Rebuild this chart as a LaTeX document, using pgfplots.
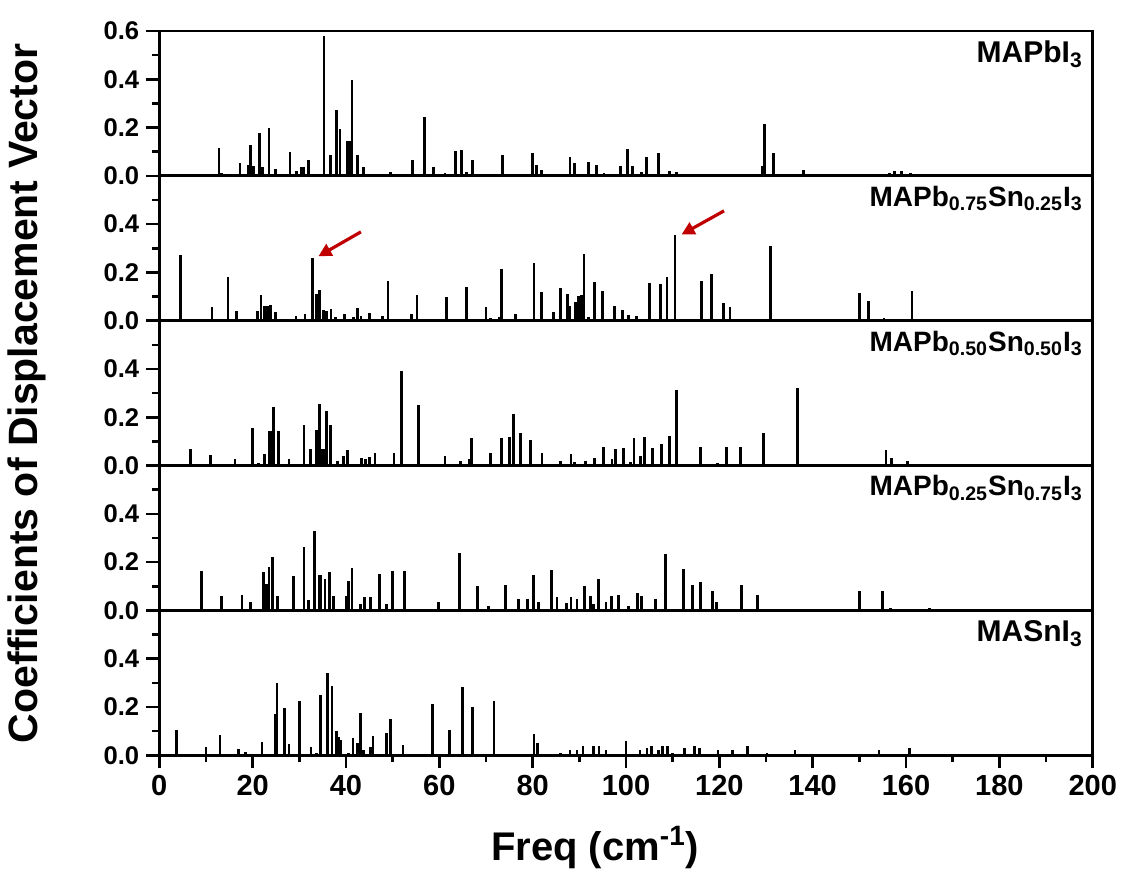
\documentclass[border=0pt]{standalone}
\usepackage{fontspec}
\setmainfont{Liberation Sans}
\usepackage{pgfplots}
\pgfplotsset{compat=1.18}
\usetikzlibrary{arrows.meta}

\definecolor{arrowred}{RGB}{192,0,0}

\pgfplotsset{
  panel/.style={
    scale only axis, width=466.7pt, height=72.43pt,
    xmin=0, xmax=200, ymin=0, ymax=0.6,
    axis line style={line width=1.4pt},
    ytick={0,0.2,0.4}, minor ytick={0.1,0.3,0.5},
    xtick=\empty,
    tick align=outside, tick pos=left,
    major tick length=6.5pt, minor tick length=3.5pt,
    every tick/.style={line width=1.3pt, black},
    /pgf/number format/assume math mode=true,
    yticklabel style={font=\fontsize{12.8}{14}\selectfont\bfseries,
      /pgf/number format/fixed, /pgf/number format/precision=1,
      /pgf/number format/fixed zerofill},
    xticklabel style={font=\fontsize{14.5}{16}\selectfont\bfseries},
  },
  spec/.style={ycomb, black, line width=1.4pt, mark=none},
}
\tikzset{
  lbl/.style={anchor=north east, inner sep=0pt, xshift=-4.8pt, yshift=-4.8pt,
    font=\fontsize{14}{16}\selectfont\bfseries},
}

\begin{document}
\begin{tikzpicture}
\path[use as bounding box] (-79.65pt,-56.85pt) rectangle (484.35pt,377.65pt);

% MASnI3
\begin{axis}[panel, at={(0pt,0pt)}, anchor=south west,
  xtick={0,20,...,200}, minor x tick num=1]
\addplot[spec] coordinates {
(3.7,0.106) (10.0,0.036) (13.0,0.083) (17.0,0.028) (18.4,0.015) (22.0,0.054)
(24.8,0.171) (25.2,0.301) (26.9,0.197) (27.8,0.047) (30.0,0.225) (32.5,0.036)
(33.6,0.011) (34.6,0.248) (36.0,0.339) (37.0,0.288) (37.9,0.102) (38.4,0.076)
(38.9,0.062) (40.5,0.011) (41.5,0.07) (42.5,0.05) (43.1,0.177) (43.8,0.022)
(45.3,0.036) (45.8,0.079) (48.6,0.094) (49.6,0.15) (52.2,0.043) (58.5,0.211)
(62.2,0.106) (64.9,0.284) (67.1,0.201) (71.7,0.224) (80.3,0.09) (81.0,0.05)
(86.0,0.01) (88.0,0.02) (89.5,0.02) (90.8,0.04) (93.1,0.04) (94.2,0.04)
(95.7,0.02) (100.0,0.06) (103.0,0.02) (104.5,0.03) (105.4,0.04) (106.9,0.02)
(107.8,0.04) (108.9,0.04) (110.0,0.01) (112.5,0.03) (114.7,0.04) (115.8,0.03)
(119.7,0.02) (122.9,0.02) (126.1,0.04) (130.2,0.01) (136.2,0.02) (147.8,0.005)
(154.2,0.02) (160.8,0.03)
};
\node[lbl, font=\fontsize{15}{17}\selectfont\bfseries] at (rel axis cs:1,1) {MASnI\textsubscript{3}};
\end{axis}

% MAPb0.25Sn0.75I3
\begin{axis}[panel, at={(0pt,72.43pt)}, anchor=south west]
\addplot[spec] coordinates {
(9.1,0.165) (13.4,0.058) (17.7,0.065) (19.6,0.037) (22.3,0.161) (22.9,0.111)
(23.5,0.181) (24.2,0.223) (25.3,0.058) (28.7,0.144) (31.0,0.264) (31.9,0.042)
(33.2,0.328) (34.2,0.148) (34.6,0.148) (35.5,0.129) (36.4,0.161) (37.4,0.061)
(40.1,0.058) (40.5,0.123) (41.3,0.176) (43.1,0.025) (44.0,0.057) (45.2,0.054)
(47.1,0.152) (48.7,0.025) (50.0,0.165) (52.6,0.165) (59.8,0.037) (64.3,0.239)
(68.1,0.1) (70.6,0.018) (74.2,0.105) (76.9,0.046) (78.9,0.046) (80.1,0.148)
(81.3,0.036) (84.1,0.169) (85.2,0.054) (87.2,0.029) (88.2,0.054) (89.5,0.046)
(91.1,0.1) (92.4,0.058) (93.0,0.026) (94.1,0.129) (95.7,0.036) (96.9,0.061)
(98.4,0.065) (100.6,0.018) (102.4,0.073) (103.4,0.061) (106.4,0.046) (108.5,0.235)
(112.4,0.173) (114.2,0.107) (116.0,0.116) (118.6,0.082) (119.4,0.037) (124.8,0.105)
(128.1,0.062) (150.1,0.082) (154.9,0.08) (156.6,0.01) (165.1,0.01)
};
\node[lbl] at (rel axis cs:1,1) {MAPb\textsubscript{0.25}Sn\textsubscript{0.75}I\textsubscript{3}};
\end{axis}

% MAPb0.50Sn0.50I3
\begin{axis}[panel, at={(0pt,144.86pt)}, anchor=south west]
\addplot[spec] coordinates {
(6.7,0.067) (10.9,0.043) (16.2,0.028) (19.9,0.156) (21.2,0.01) (22.6,0.046)
(23.5,0.142) (24.0,0.142) (24.5,0.243) (25.5,0.142) (27.8,0.026) (31.0,0.167)
(32.4,0.067) (33.7,0.146) (34.3,0.256) (35.0,0.067) (35.4,0.067) (35.9,0.227)
(36.6,0.167) (38.2,0.02) (39.4,0.038) (40.4,0.063) (43.4,0.031) (44.1,0.026)
(45.0,0.035) (46.2,0.054) (50.3,0.054) (51.9,0.39) (55.6,0.251) (61.2,0.038)
(64.6,0.018) (66.4,0.028) (66.9,0.116) (71.0,0.054) (73.3,0.116) (75.1,0.118)
(75.9,0.215) (77.4,0.135) (79.6,0.107) (82.0,0.054) (85.9,0.017) (88.2,0.046)
(88.9,0.014) (91.4,0.017) (93.2,0.032) (95.1,0.079) (97.0,0.028) (97.7,0.068)
(99.5,0.072) (100.9,0.014) (101.7,0.114) (103.1,0.038) (103.9,0.118) (105.7,0.072)
(107.6,0.09) (109.4,0.123) (110.9,0.311) (116.0,0.075) (119.6,0.011) (121.6,0.075)
(124.6,0.075) (129.5,0.135) (136.7,0.323) (155.7,0.065) (156.9,0.03) (160.3,0.021)
};
\node[lbl] at (rel axis cs:1,1) {MAPb\textsubscript{0.50}Sn\textsubscript{0.50}I\textsubscript{3}};
\end{axis}

% MAPb0.75Sn0.25I3
\begin{axis}[panel, at={(0pt,217.29pt)}, anchor=south west]
\addplot[spec] coordinates {
(4.5,0.274) (11.3,0.055) (14.7,0.183) (16.6,0.039) (21.0,0.042) (21.8,0.107)
(22.6,0.06) (23.1,0.062) (23.8,0.066) (24.9,0.035) (29.3,0.019) (31.2,0.028)
(32.9,0.259) (33.6,0.112) (34.4,0.127) (35.1,0.046) (35.9,0.042) (36.8,0.05)
(37.8,0.014) (39.6,0.026) (41.6,0.015) (42.5,0.051) (43.2,0.018) (45.1,0.03)
(47.8,0.019) (49.0,0.166) (54.1,0.026) (55.2,0.107) (61.6,0.098) (64.1,0.007)
(65.9,0.138) (70.0,0.058) (71.0,0.011) (72.2,0.008) (72.9,0.015) (73.3,0.215)
(76.4,0.026) (80.3,0.238) (81.9,0.118) (84.4,0.035) (86.0,0.134) (87.4,0.111)
(88.0,0.06) (89.2,0.078) (89.9,0.104) (90.4,0.107) (91.0,0.278) (91.9,0.015)
(93.2,0.162) (94.9,0.123) (97.5,0.062) (99.2,0.043) (100.6,0.024) (102.3,0.019)
(105.1,0.158) (107.4,0.154) (108.8,0.181) (110.5,0.357) (116.2,0.166) (118.3,0.194)
(120.9,0.075) (122.3,0.055) (130.9,0.31) (150.0,0.113) (152.0,0.08) (155.3,0.011)
(161.3,0.122)
};
\draw[arrowred, line width=1.6pt, -{Triangle[length=6.5pt,width=6.5pt]}]
  (axis cs:43.2,0.368) -- (axis cs:34.1,0.267);
\draw[arrowred, line width=1.6pt, -{Triangle[length=6.5pt,width=6.5pt]}]
  (axis cs:121.0,0.455) -- (axis cs:111.9,0.357);
\node[lbl] at (rel axis cs:1,1) {MAPb\textsubscript{0.75}Sn\textsubscript{0.25}I\textsubscript{3}};
\end{axis}

% MAPbI3
\begin{axis}[panel, at={(0pt,289.72pt)}, anchor=south west,
  ytick={0,0.2,0.4,0.6}]
\addplot[spec] coordinates {
(12.8,0.115) (13.3,0.01) (17.3,0.054) (19.0,0.046) (19.5,0.126) (20.2,0.039)
(21.4,0.177) (22.1,0.035) (23.5,0.198) (24.9,0.03) (28.0,0.10) (29.4,0.022)
(30.5,0.035) (30.9,0.035) (31.9,0.065) (35.3,0.58) (36.7,0.086) (37.9,0.273)
(38.7,0.194) (40.4,0.145) (40.9,0.145) (41.3,0.396) (42.4,0.087) (43.8,0.035)
(44.2,0.008) (49.6,0.014) (54.2,0.067) (56.9,0.244) (58.7,0.037) (61.2,0.011)
(63.5,0.105) (64.7,0.109) (65.9,0.015) (67.1,0.067) (73.0,0.008) (73.6,0.086)
(79.6,0.008) (80.0,0.094) (80.9,0.047) (81.9,0.026) (88.0,0.079) (89.0,0.054)
(91.9,0.057) (93.6,0.046) (95.3,0.011) (97.0,0.007) (98.8,0.039) (100.4,0.111)
(101.4,0.039) (103.4,0.018) (104.4,0.079) (107.0,0.094) (109.4,0.022) (110.9,0.014)
(129.2,0.039) (129.6,0.216) (131.6,0.094) (138.0,0.026) (156.5,0.012) (157.5,0.02)
(159.0,0.022) (161.0,0.012) (163.5,0.006) (166.5,0.005)
};
\node[lbl, font=\fontsize{15}{17}\selectfont\bfseries] at (rel axis cs:1,1) {MAPbI\textsubscript{3}};
\end{axis}

\node[rotate=90, font=\fontsize{20.5}{22}\selectfont\bfseries] at (-66pt,181pt)
  {Coefficients of Displacement Vector};
\node[anchor=base, font=\fontsize{20}{22}\selectfont\bfseries] at (217.9pt,-52.4pt)
  {Freq (cm\textsuperscript{-1})};
\end{tikzpicture}
\end{document}
